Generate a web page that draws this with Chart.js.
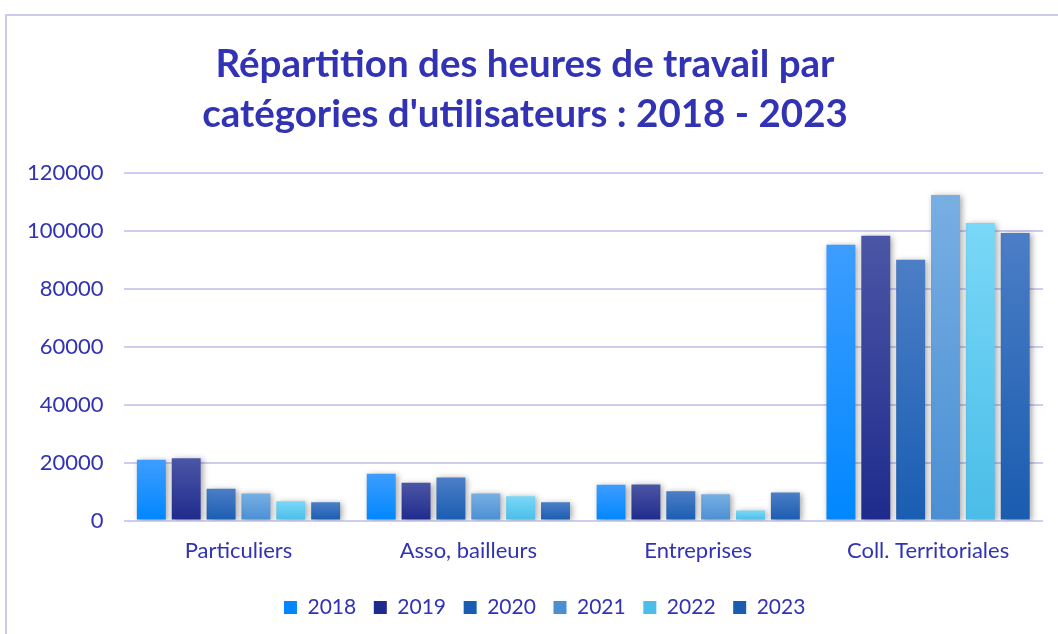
<!DOCTYPE html>
<html>
<head>
<meta charset="utf-8">
<script src="https://cdn.jsdelivr.net/npm/chart.js@4/dist/chart.umd.min.js"></script>
<style>
  html, body { margin: 0; padding: 0; background: #fff; overflow: hidden; }
  #frame {
    position: absolute; left: 5px; top: 14px;
    width: 1060px; height: 630px;
    border-top: 2px solid #cbcbee; border-left: 2px solid #cbcbee;
  }
  #wrap { position: absolute; left: 0; top: 0; width: 1051px; height: 618px; }
</style>
</head>
<body>
<div id="frame"><div id="wrap"><canvas id="myChart"></canvas></div></div>
<script>
// data
const categories = ['Particuliers', 'Asso, bailleurs', 'Entreprises', 'Coll. Territoriales'];
const years = ['2018', '2019', '2020', '2021', '2022', '2023'];
const h2018 = [21000, 16200, 12400, 95300];
const h2019 = [21500, 13100, 12500, 98400];
const h2020 = [11000, 14900, 10100, 90100];
const h2021 = [9400, 9400, 9100, 112400];
const h2022 = [6700, 8400, 3500, 102800];
const h2023 = [6300, 6300, 9700, 99300];
const yTicks = [0, 20000, 40000, 60000, 80000, 100000, 120000];

// colours (top, bottom of each bar gradient)
const topColors = ['#3d9dff', '#4c56a6', '#4c7ec6', '#78afe3', '#7ad8f8', '#4b7ec6'];
const bottomColors = ['#0087ff', '#1e2b8c', '#195db2', '#4a8fd4', '#4abde8', '#1a5cb0'];
const textBlue = '#3233b4';

function barGradient(i) {
  return function (context) {
    const chart = context.chart;
    const yScale = chart.scales.y;
    if (!chart.chartArea || !yScale || context.parsed === undefined) return bottomColors[i];
    const top = yScale.getPixelForValue(context.parsed.y);
    const base = yScale.getPixelForValue(0);
    if (!isFinite(top) || !isFinite(base) || top === base) return bottomColors[i];
    const g = chart.ctx.createLinearGradient(0, top, 0, base);
    g.addColorStop(0, topColors[i]);
    g.addColorStop(1, bottomColors[i]);
    return g;
  };
}

const series = [h2018, h2019, h2020, h2021, h2022, h2023];
const data = {
  labels: categories,
  datasets: series.map((values, i) => ({
    label: years[i],
    data: values,
    backgroundColor: barGradient(i),
    borderWidth: 0,
    categoryPercentage: 0.91,
    barPercentage: 0.83,
  }))
};

// soft shadow behind bars
const shadowPlugin = {
  id: 'barShadow',
  beforeDatasetsDraw(chart) {
    const ctx = chart.ctx;
    ctx.save();
    ctx.shadowColor = 'rgba(0, 0, 0, 0.35)';
    ctx.shadowBlur = 6;
    ctx.shadowOffsetX = 2;
    ctx.shadowOffsetY = 1;
  },
  afterDatasetsDraw(chart) {
    chart.ctx.restore();
  }
};

// legend sits a bit right of the canvas centre in the original
const legendShift = {
  id: 'legendShift',
  afterLayout(chart) {
    chart.legend.left += 21;
    chart.legend.right += 21;
  }
};

const config = {
  type: 'bar',
  data,
  options: {
    responsive: true,
    maintainAspectRatio: false,
    animation: false,
    layout: { padding: { left: 0, right: 15, top: 24, bottom: 6 } },
    plugins: {
      title: {
        display: true,
        text: ['Répartition des heures de travail par', "catégories d'utilisateurs : 2018 - 2023"],
        color: textBlue,
        font: { family: 'Lato', size: 38.5, weight: 'bold', lineHeight: 1.3 },
        padding: { top: 0, bottom: 33 }
      },
      legend: {
        position: 'bottom',
        labels: {
          color: textBlue,
          font: { family: 'Lato', size: 21 },
          boxWidth: 13,
          boxHeight: 13,
          padding: 15,
          generateLabels: chart => years.map((y, i) => ({
            text: y + '\u2009',
            fillStyle: bottomColors[i],
            strokeStyle: bottomColors[i],
            lineWidth: 0,
            fontColor: textBlue,
            datasetIndex: i,
            hidden: false
          }))
        }
      },
      tooltip: { enabled: false }
    },
    scales: {
      x: {
        grid: { display: false, drawTicks: false },
        border: { display: false },
        ticks: { color: textBlue, font: { family: 'Lato', size: 22 }, padding: 17.5 }
      },
      y: {
        min: 0,
        max: 120000,
        afterBuildTicks: axis => { axis.ticks = yTicks.map(v => ({ value: v })); },
        grid: { color: '#cdcdf0', lineWidth: 2, drawTicks: false },
        border: { display: false },
        ticks: {
          color: textBlue,
          font: { family: 'Lato', size: 22 },
          padding: 20,
          callback: v => String(v)
        }
      }
    }
  },
  plugins: [shadowPlugin, legendShift]
};

const ctx = document.getElementById('myChart');
const myChart = new Chart(ctx, config);
</script>
</body>
</html>
